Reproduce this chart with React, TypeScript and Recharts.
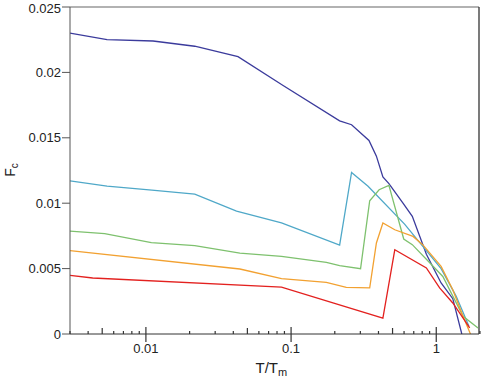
import React from "react";
import {
  LineChart,
  Line,
  XAxis,
  YAxis,
  ReferenceLine,
} from "recharts";

// T/Tm values and Fc values, one pair of arrays per curve
const blueT = [0.003, 0.0054, 0.0112, 0.0217, 0.0431, 0.0881, 0.216, 0.261, 0.344, 0.387, 0.429, 0.472, 0.59, 0.684, 0.855, 1.08, 1.3, 1.5];
const blueF = [0.023, 0.0225, 0.0224, 0.022, 0.0212, 0.019, 0.0163, 0.016, 0.0148, 0.0136, 0.012, 0.0115, 0.01, 0.009, 0.0061, 0.0039, 0.0027, 0.0];

const tealT = [0.003, 0.0054, 0.011, 0.0217, 0.0421, 0.0859, 0.216, 0.261, 0.339, 0.605, 1.08, 1.37, 1.68];
const tealF = [0.0117, 0.0113, 0.011, 0.0107, 0.0094, 0.0085, 0.0068, 0.01235, 0.0113, 0.0084, 0.005, 0.0029, 0.0006];

const greenT = [0.003, 0.0052, 0.0109, 0.0217, 0.0444, 0.0859, 0.175, 0.216, 0.301, 0.348, 0.404, 0.472, 0.597, 0.684, 0.905, 1.11, 1.53, 1.94];
const greenF = [0.00787, 0.00767, 0.00698, 0.00675, 0.00619, 0.00593, 0.00547, 0.00522, 0.00499, 0.01019, 0.01103, 0.01136, 0.00726, 0.00683, 0.00543, 0.0044, 0.00135, 0.00046];

const orangeT = [0.003, 0.0444, 0.0859, 0.175, 0.24, 0.348, 0.387, 0.429, 0.518, 0.692, 0.806, 1.08, 1.3, 1.53, 1.72];
const orangeF = [0.00637, 0.00497, 0.00423, 0.00395, 0.00356, 0.00352, 0.00696, 0.00849, 0.00797, 0.00746, 0.00683, 0.00517, 0.00339, 0.00135, 0.0];

const redT = [0.003, 0.0043, 0.0859, 0.429, 0.518, 0.855, 1.055, 1.3, 1.7];
const redF = [0.00448, 0.00428, 0.00359, 0.00122, 0.00644, 0.00505, 0.00352, 0.00237, 0.00046];

const xDomain = [0.003, 1.97];
const yTicks = [0, 0.005, 0.01, 0.015, 0.02, 0.025];
const majorTicks = [0.01, 0.1, 1];
const midTicks = [0.005, 0.05, 0.5];

// log axis tick positions 0.003 .. 2
const xTicks: number[] = [];
[0.001, 0.01, 0.1, 1].forEach((d) => {
  for (let m = 1; m <= 9; m++) {
    const v = +(m * d).toPrecision(3);
    if (v >= 0.003 && v <= 2) xTicks.push(v);
  }
});

const toRows = (t: number[], f: number[]) => t.map((v, i) => ({ t: v, f: f[i] }));

const series = [
  { name: "a", data: toRows(blueT, blueF), color: "#3b3b9c" },
  { name: "b", data: toRows(tealT, tealF), color: "#4fa8c8" },
  { name: "c", data: toRows(greenT, greenF), color: "#7ec16e" },
  { name: "d", data: toRows(orangeT, orangeF), color: "#f2a131" },
  { name: "e", data: toRows(redT, redF), color: "#e3211f" },
];

const near = (v: number, list: number[]) => list.some((m) => Math.abs(v - m) < 1e-9);

//eslint-disable-next-line
function XTick(props: any) {
  const { x, y, payload } = props;
  const v = payload.value;
  if (near(v, majorTicks)) {
    return (
      <g>
        <line x1={x} x2={x} y1={y - 7} y2={y + 8} stroke="#333" strokeWidth={1.2} />
        <text x={x} y={y + 19} textAnchor="middle" fontSize={13} fill="#222">
          {String(v)}
        </text>
      </g>
    );
  }
  const len = near(v, midTicks) ? 6 : 3;
  return <line x1={x} x2={x} y1={y - len} y2={y} stroke="#333" strokeWidth={1.2} />;
}

function App() {
  return (
    <div style={{ position: "absolute", left: 0, top: 0, fontFamily: "Liberation Sans, Arial, sans-serif" }}>
      <LineChart
        width={485}
        height={388}
        margin={{ top: 7, right: 6, left: 0, bottom: 0 }}
      >
        <XAxis
          dataKey="t"
          type="number"
          scale="log"
          domain={xDomain}
          allowDataOverflow
          ticks={xTicks}
          interval={0}
          tick={<XTick />}
          tickLine={false}
          tickSize={0}
          tickMargin={0}
          height={54}
          stroke="#333"
          label={{
            content: (p: any) => {
              const vb = p.viewBox;
              const cx = vb.x + vb.width / 2 - 19;
              return (
                <text x={cx} y={vb.y + 39} fontSize={15} fill="#222">
                  T/T
                  <tspan fontSize={11} dy={3}>m</tspan>
                </text>
              );
            },
          }}
        />
        <YAxis
          dataKey="f"
          type="number"
          domain={[0, 0.025]}
          allowDataOverflow
          ticks={yTicks}
          tickFormatter={(v: number) => String(v)}
          tick={{ fontSize: 13, fill: "#222" }}
          tickSize={8}
          tickMargin={1}
          width={70}
          stroke="#555"
          label={{
            content: () => (
              <text transform="rotate(-90, 15, 170)" x={15} y={170} textAnchor="middle" fontSize={14} fill="#222">
                F<tspan fontSize={10} dy={3}>c</tspan>
              </text>
            ),
          }}
        />
        <ReferenceLine y={0.025} stroke="#999" strokeWidth={1.3} ifOverflow="visible" />
        <ReferenceLine x={xDomain[1]} stroke="#333" strokeWidth={1.3} ifOverflow="visible" />
        {series.map((s) => (
          <Line
            key={s.name}
            data={s.data}
            dataKey="f"
            type="linear"
            stroke={s.color}
            strokeWidth={1.3}
            dot={false}
            isAnimationActive={false}
          />
        ))}
      </LineChart>
    </div>
  );
}

export default App;
